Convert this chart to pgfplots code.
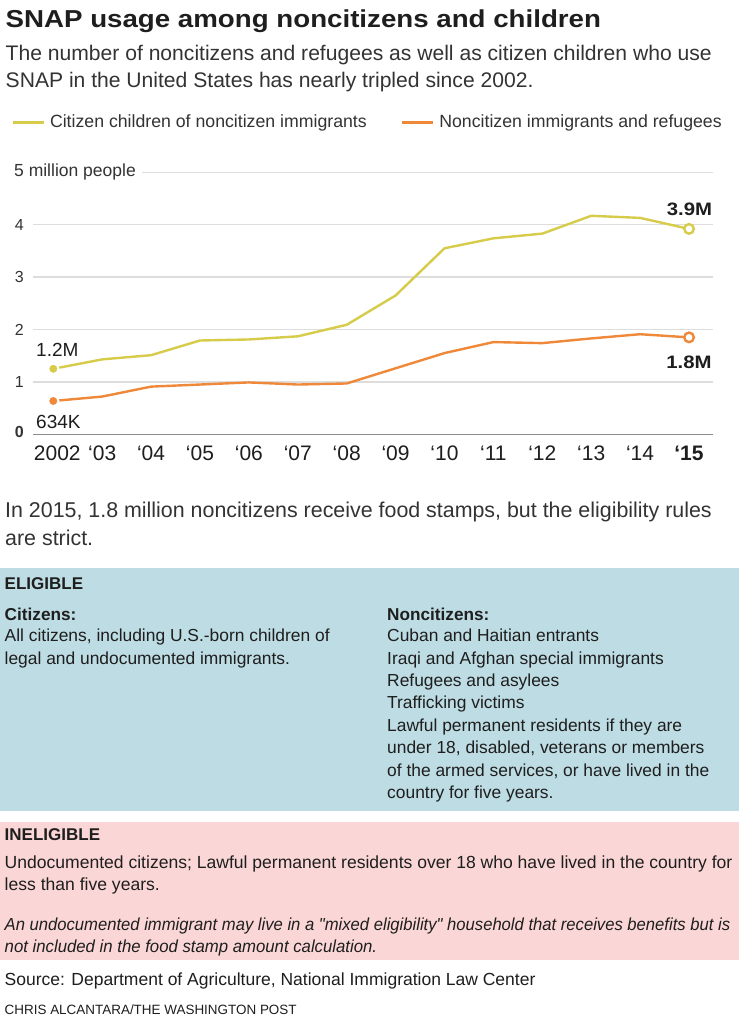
\documentclass[border=0pt]{standalone}
\usepackage{graphicx}
\usepackage{fontspec}
\setmainfont{Liberation Sans}[Ligatures=TeXOff]
\newfontfamily\wide{Liberation Sans}[FakeStretch=1.13]
\usepackage{pgfplots}
\pgfplotsset{compat=1.18}
\definecolor{yl}{HTML}{D6CC4A}
\definecolor{og}{HTML}{F0883A}
\definecolor{bluebox}{HTML}{BEDCE3}
\definecolor{pinkbox}{HTML}{FAD7D6}
\definecolor{gridc}{HTML}{DDDDDD}
\definecolor{zeroc}{HTML}{8C8C8C}
\definecolor{txt}{HTML}{1E1E1E}
\definecolor{sub}{HTML}{333333}
\newcommand{\fs}[1]{\fontsize{#1}{#1}\selectfont}

\pgfplotstableread{
year val
2002 1.25
2003 1.43
2004 1.51
2005 1.79
2006 1.81
2007 1.87
2008 2.09
2009 2.65
2010 3.55
2011 3.74
2012 3.83
2013 4.17
2014 4.13
2015 3.92
}\children
\pgfplotstableread{
year val
2002 0.636
2003 0.72
2004 0.91
2005 0.95
2006 0.99
2007 0.95
2008 0.97
2009 1.26
2010 1.55
2011 1.76
2012 1.74
2013 1.83
2014 1.91
2015 1.85
}\noncit

\begin{document}
\begin{tikzpicture}
\useasboundingbox (0,0) rectangle (739pt,-1024pt);
\fill[white] (0,0) rectangle (739pt,-1024pt);
\fill[bluebox] (0pt,-568.3pt) rectangle (739pt,-811pt);
\fill[pinkbox] (0pt,-821.7pt) rectangle (739pt,-960pt);

\begin{axis}[
  at={(33pt,-434.3pt)}, anchor=south west,
  scale only axis, width=680pt, height=262pt,
  xmin=2001.585, xmax=2015.49, ymin=0, ymax=5,
  axis line style={draw=none},
  major tick length=0pt,
  ytick={1,2,3,4,5},
  yticklabels={1,2,3,4,{}},
  extra y ticks={0},
  extra y tick labels={\raisebox{4pt}{\textbf{0}}},
  extra y tick style={major grid style={color=zeroc, line width=1.5pt}},
  ymajorgrids,
  major grid style={color=gridc, line width=1.3pt},
  yticklabel style={font=\fs{16}, text=sub, anchor=east, inner sep=0pt, xshift=-9pt},
  xtick={2002,...,2015},
  xticklabels={\hspace{8pt}2002,‘03,‘04,‘05,‘06,‘07,‘08,‘09,‘10,‘11,‘12,‘13,‘14,\textbf{‘15}},
  xticklabel style={font=\fs{21}, text=txt, anchor=base, inner sep=0pt, yshift=-25.7pt},
  legend columns=2,
  legend style={at={(axis description cs:-0.03176,1.1908)}, anchor=west, draw=none, fill=none,
    inner sep=0pt, outer sep=0pt, font=\fs{17.7}, text=sub, nodes={inner sep=0pt},
    /tikz/every odd column/.append style={column sep=5pt},
    /tikz/every even column/.append style={column sep=34pt}},
  legend cell align=left,
  legend image code/.code={\draw[#1, line width=2.6pt] (0pt,0pt) -- (31pt,0pt);},
  clip=false,
]
\addplot[yl, line width=2.4pt, line join=round] table[x=year,y=val] {\children};
\addlegendentry{Citizen children of noncitizen immigrants}
\addplot[og, line width=2.4pt, line join=round] table[x=year,y=val] {\noncit};
\addlegendentry{Noncitizen immigrants and refugees}
\addplot[only marks, mark=*, mark size=5.2pt, mark options={fill=yl, draw=white, line width=2pt}, forget plot] coordinates {(2002,1.25)};
\addplot[only marks, mark=*, mark size=5.2pt, mark options={fill=og, draw=white, line width=2pt}, forget plot] coordinates {(2002,0.636)};
\addplot[only marks, mark=*, mark size=4.8pt, mark options={fill=white, draw=yl, line width=2.4pt}, forget plot] coordinates {(2015,3.92)};
\addplot[only marks, mark=*, mark size=4.8pt, mark options={fill=white, draw=og, line width=2.4pt}, forget plot] coordinates {(2015,1.85)};
\end{axis}

% chart annotations
\node[anchor=base west, fill=white, inner xsep=6pt, inner ysep=3pt, font=\fs{17.5}, text=sub] at (8pt,-176.7pt) {5 million people};
\node[anchor=base west, inner sep=0pt, font=\fs{19}, text=txt] at (36pt,-356.7pt) {1.2M};
\node[anchor=base west, inner sep=0pt, font=\fs{19}, text=txt] at (36pt,-428.3pt) {634K};
\node[anchor=base east, inner sep=0pt, font=\wide\bfseries\fs{18}, text=txt] at (712.3pt,-215pt) {3.9M};
\node[anchor=base east, inner sep=0pt, font=\wide\bfseries\fs{18}, text=txt] at (711.7pt,-368.3pt) {1.8M};

% header
\node[anchor=base west, inner sep=0pt, font=\wide\bfseries\fs{24.5}, text=txt] at (5.5pt,-27.3pt) {SNAP usage among noncitizens and children};
\begin{scope}[every node/.style={anchor=base west, inner sep=0pt, font=\fs{21.1}, text=sub}]
\node at (5.5pt,-61pt) {The number of noncitizens and refugees as well as citizen children who use};
\node at (5.5pt,-87.3pt) {SNAP in the United States has nearly tripled since 2002.};
\end{scope}

% paragraph
\begin{scope}[every node/.style={anchor=base west, inner sep=0pt, font=\fs{21.4}, text=sub}]
\node at (5pt,-517.3pt) {In 2015, 1.8 million noncitizens receive food stamps, but the eligibility rules};
\node at (5pt,-545pt) {are strict.};
\end{scope}

% eligible box
\begin{scope}[every node/.style={anchor=base west, inner sep=0pt, font=\fs{17.4}, text=txt}]
\node[font=\bfseries\fs{17}] at (4.5pt,-589.3pt) {ELIGIBLE};
\node[font=\bfseries\fs{17.2}] at (4.5pt,-620pt) {Citizens:};
\node at (4.5pt,-641.7pt) {All citizens, including U.S.-born children of};
\node at (4.5pt,-664.1pt) {legal and undocumented immigrants.};
\node[font=\bfseries\fs{17.2}] at (387pt,-620pt) {Noncitizens:};
\node at (387pt,-641.7pt) {Cuban and Haitian entrants};
\node at (387pt,-664.1pt) {Iraqi and Afghan special immigrants};
\node at (387pt,-686.5pt) {Refugees and asylees};
\node at (387pt,-708.9pt) {Trafficking victims};
\node at (387pt,-731.3pt) {Lawful permanent residents if they are};
\node at (387pt,-753.7pt) {under 18, disabled, veterans or members};
\node at (387pt,-776.1pt) {of the armed services, or have lived in the};
\node at (387pt,-798.5pt) {country for five years.};

% ineligible box
\node[font=\bfseries\fs{17}] at (4.5pt,-840.3pt) {INELIGIBLE};
\node[font=\fs{17.55}] at (4.5pt,-868.3pt) {Undocumented citizens; Lawful permanent residents over 18 who have lived in the country for};
\node[font=\fs{17.55}] at (4.5pt,-890.8pt) {less than five years.};
\node[font=\itshape\fs{17.4}] at (4.5pt,-930pt) {\resizebox{725.5pt}{\height}{An undocumented immigrant may live in a "mixed eligibility" household that receives benefits but is}};
\node[font=\itshape\fs{17.4}] at (4.5pt,-952.3pt) {\resizebox{372.5pt}{\height}{not included in the food stamp amount calculation.}};

% footer
\node[font=\fs{17.5}] at (4.5pt,-985.7pt) {Source: Department of Agriculture, National Immigration Law Center};
\node[font=\fs{13.45}] at (4.5pt,-1014.3pt) {CHRIS ALCANTARA/THE WASHINGTON POST};
\end{scope}
\end{tikzpicture}
\end{document}
